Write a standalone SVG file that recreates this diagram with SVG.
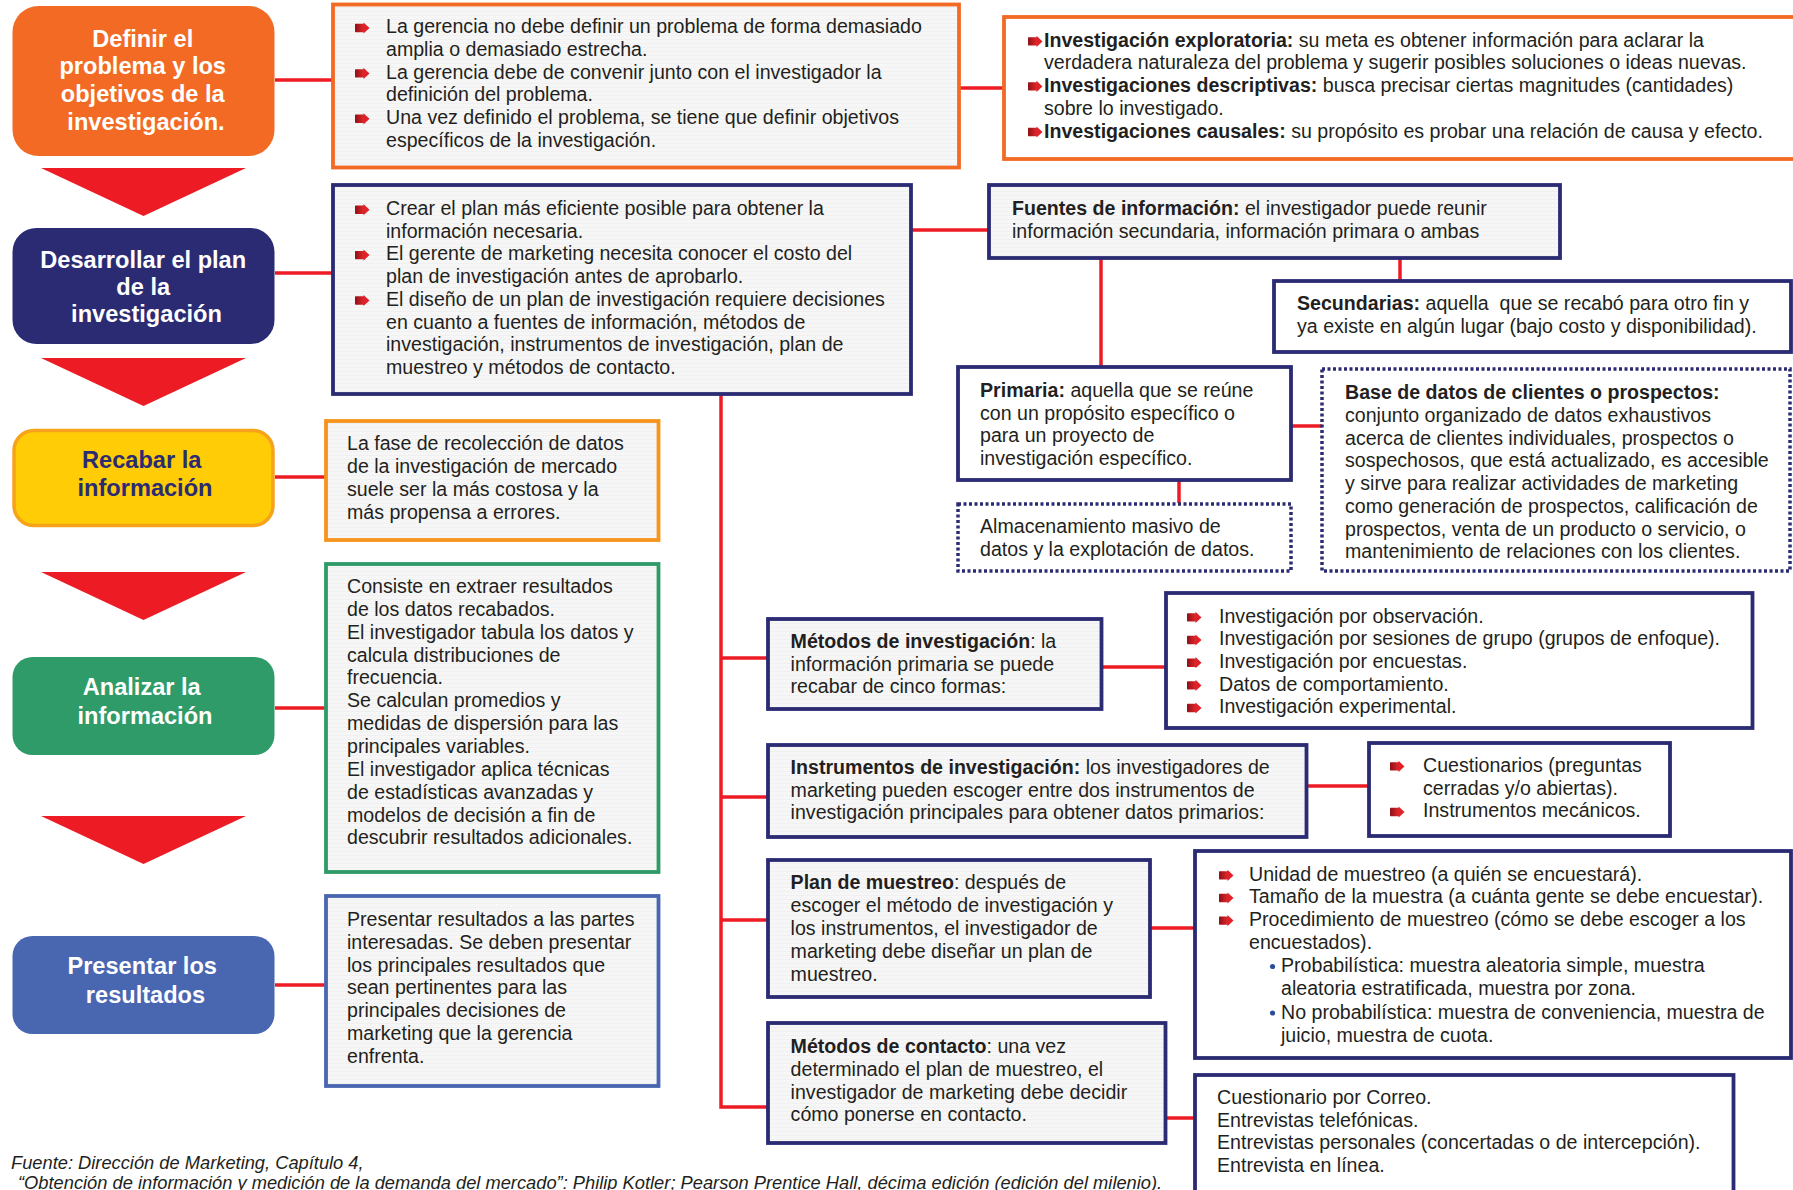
<svg xmlns="http://www.w3.org/2000/svg" width="1793" height="1190" viewBox="0 0 1793 1190">
  <style>
    .t { font-family: "Liberation Sans", Arial, sans-serif; font-size: 19.6px; fill: #231F20; }
    .b { font-weight: bold; }
    .ttl { font-family: "Liberation Sans", Arial, sans-serif; font-size: 23.6px; font-weight: bold; fill: #FFFFFF; text-anchor: middle; }
    .foot { font-family: "Liberation Sans", Arial, sans-serif; font-size: 18.3px; font-style: italic; fill: #231F20; }
    .conn { stroke: #ED1C24; stroke-width: 3.5; fill: none; }
    .navy { fill: url(#tex); stroke: #2B2B73; stroke-width: 3.8; }
    .navyw { fill: #FFFFFF; stroke: #2B2B73; stroke-width: 3.8; }
    .dots { fill: #FFFFFF; stroke: #2B2B73; stroke-width: 3.5; stroke-dasharray: 3 2.5; }
    .step-arrow { fill: #ED1C24; }
    .sub { fill: #2B4C9B; }
  </style>
  <defs>
    <pattern id="tex" width="4" height="4" patternUnits="userSpaceOnUse">
      <rect width="4" height="4" fill="#F5F5F5"/>
      <rect x="0" y="0" width="1" height="1" fill="#FDFDFD"/>
      <rect x="2" y="2" width="1" height="1" fill="#FDFDFD"/>
      <rect x="0" y="3" width="4" height="0.6" fill="#EDEDED"/>
    </pattern>
    <linearGradient id="bulletGrad" x1="0" y1="0" x2="1" y2="0">
      <stop offset="0" stop-color="#8E1015"/>
      <stop offset="0.55" stop-color="#D9252B"/>
      <stop offset="1" stop-color="#ED1C24"/>
    </linearGradient>
    <!-- red arrow bullet, origin at left-centre -->
    <path id="bul" d="M0.5,-4.2 Q0,-4.2 0,-2.8 L0,2.8 Q0,4.2 0.5,4.2 L8.5,4.2 L8.5,5.6 L14.5,0 L8.5,-5.6 L8.5,-4.2 Z" fill="url(#bulletGrad)"/>
  </defs>

  <rect width="1793" height="1190" fill="#FFFFFF"/>

  <!-- connectors -->
  <g id="connectors">
    <line class="conn" x1="275" y1="80" x2="333" y2="80"/>
    <line class="conn" x1="275" y1="273" x2="333" y2="273"/>
    <line class="conn" x1="275" y1="477" x2="326" y2="477"/>
    <line class="conn" x1="275" y1="708" x2="326" y2="708"/>
    <line class="conn" x1="275" y1="985" x2="326" y2="985"/>
    <line class="conn" x1="959" y1="88" x2="1004" y2="88"/>
    <line class="conn" x1="911" y1="230" x2="989" y2="230"/>
    <line class="conn" x1="1101" y1="258" x2="1101" y2="367"/>
    <line class="conn" x1="1400" y1="258" x2="1400" y2="280"/>
    <line class="conn" x1="1179" y1="480" x2="1179" y2="503"/>
    <line class="conn" x1="1291" y1="426" x2="1322" y2="426"/>
    <polyline class="conn" points="721,394 721,1107 768,1107"/>
    <line class="conn" x1="721" y1="658" x2="768" y2="658"/>
    <line class="conn" x1="721" y1="797" x2="768" y2="797"/>
    <line class="conn" x1="721" y1="920" x2="768" y2="920"/>
    <line class="conn" x1="1101" y1="667" x2="1166" y2="667"/>
    <line class="conn" x1="1306" y1="786" x2="1369" y2="786"/>
    <line class="conn" x1="1150" y1="928" x2="1195" y2="928"/>
    <line class="conn" x1="1166" y1="1118" x2="1195" y2="1118"/>
  </g>

  <!-- step arrows between stages -->
  <g id="step-arrows">
    <polygon class="step-arrow" points="41,168 246,168 143.5,216"/>
    <polygon class="step-arrow" points="41,358 246,358 143.5,406"/>
    <polygon class="step-arrow" points="41,572 246,572 143.5,620"/>
    <polygon class="step-arrow" points="41,816 246,816 143.5,864"/>
  </g>

  <!-- stage 1 -->
  <g id="stage-definir">
    <rect x="12.5" y="6" width="262" height="150" rx="26" fill="#F26A24"/>
    <text class="ttl">
      <tspan x="146" y="46.7">Definir el</tspan>
      <tspan x="146" y="74.3">problema y los</tspan>
      <tspan x="146" y="102">objetivos de la</tspan>
      <tspan x="146" y="129.6">investigación.</tspan>
    </text>
  </g>
  <g id="stage-desarrollar">
    <rect x="12.5" y="228" width="262" height="116" rx="24" fill="#2B2B73"/>
    <text class="ttl">
      <tspan x="146.5" y="267.5">Desarrollar el plan</tspan>
      <tspan x="146.5" y="295">de la</tspan>
      <tspan x="146.5" y="322.3">investigación</tspan>
    </text>
  </g>
  <g id="stage-recabar">
    <rect x="14" y="430.5" width="259" height="95" rx="20" fill="#FFCC05" stroke="#F7A21B" stroke-width="3.5"/>
    <text class="ttl" style="fill:#2B2B73">
      <tspan x="145" y="467.5">Recabar la</tspan>
      <tspan x="145" y="496">información</tspan>
    </text>
  </g>
  <g id="stage-analizar">
    <rect x="12.5" y="657" width="262" height="98" rx="20" fill="#2E9B68"/>
    <text class="ttl">
      <tspan x="145" y="694.5">Analizar la</tspan>
      <tspan x="145" y="723.5">información</tspan>
    </text>
  </g>
  <g id="stage-presentar">
    <rect x="12.5" y="936" width="262" height="98" rx="20" fill="#4966B0"/>
    <text class="ttl">
      <tspan x="145.5" y="974">Presentar los</tspan>
      <tspan x="145.5" y="1003">resultados</tspan>
    </text>
  </g>

  <!-- stage detail boxes -->
  <g id="detail-definir">
    <rect x="333" y="4.5" width="626" height="163" fill="url(#tex)" stroke="#F26A24" stroke-width="3.8"/>
    <use href="#bul" x="355" y="28"/>
    <use href="#bul" x="355" y="73.4"/>
    <use href="#bul" x="355" y="118.8"/>
    <text class="t">
      <tspan x="386" y="33.3">La gerencia no debe definir un problema de forma demasiado</tspan>
      <tspan x="386" y="56">amplia o demasiado estrecha.</tspan>
      <tspan x="386" y="78.7">La gerencia debe de convenir junto con el investigador la</tspan>
      <tspan x="386" y="101.4">definición del problema.</tspan>
      <tspan x="386" y="124.1">Una vez definido el problema, se tiene que definir objetivos</tspan>
      <tspan x="386" y="146.8">específicos de la investigación.</tspan>
    </text>
  </g>
  <g id="detail-desarrollar">
    <rect x="333" y="185" width="578" height="209" class="navy"/>
    <use href="#bul" x="355" y="209.7"/>
    <use href="#bul" x="355" y="255.1"/>
    <use href="#bul" x="355" y="300.5"/>
    <text class="t">
      <tspan x="386" y="215">Crear el plan más eficiente posible para obtener la</tspan>
      <tspan x="386" y="237.7">información necesaria.</tspan>
      <tspan x="386" y="260.4">El gerente de marketing necesita conocer el costo del</tspan>
      <tspan x="386" y="283.1">plan de investigación antes de aprobarlo.</tspan>
      <tspan x="386" y="305.8">El diseño de un plan de investigación requiere decisiones</tspan>
      <tspan x="386" y="328.5">en cuanto a fuentes de información, métodos de</tspan>
      <tspan x="386" y="351.2">investigación, instrumentos de investigación, plan de</tspan>
      <tspan x="386" y="373.9">muestreo y métodos de contacto.</tspan>
    </text>
  </g>
  <g id="detail-recabar">
    <rect x="326" y="421" width="332.5" height="119" fill="url(#tex)" stroke="#F7941D" stroke-width="3.8"/>
    <text class="t">
      <tspan x="347" y="450">La fase de recolección de datos</tspan>
      <tspan x="347" y="473">de la investigación de mercado</tspan>
      <tspan x="347" y="496">suele ser la más costosa y la</tspan>
      <tspan x="347" y="519">más propensa a errores.</tspan>
    </text>
  </g>
  <g id="detail-analizar">
    <rect x="326" y="564" width="332.5" height="308" fill="url(#tex)" stroke="#2E9B68" stroke-width="3.8"/>
    <text class="t">
      <tspan x="347" y="593">Consiste en extraer resultados</tspan>
      <tspan x="347" y="615.85">de los datos recabados.</tspan>
      <tspan x="347" y="638.7">El investigador tabula los datos y</tspan>
      <tspan x="347" y="661.55">calcula distribuciones de</tspan>
      <tspan x="347" y="684.4">frecuencia.</tspan>
      <tspan x="347" y="707.25">Se calculan promedios y</tspan>
      <tspan x="347" y="730.1">medidas de dispersión para las</tspan>
      <tspan x="347" y="752.95">principales variables.</tspan>
      <tspan x="347" y="775.8">El investigador aplica técnicas</tspan>
      <tspan x="347" y="798.65">de estadísticas avanzadas y</tspan>
      <tspan x="347" y="821.5">modelos de decisión a fin de</tspan>
      <tspan x="347" y="844.35">descubrir resultados adicionales.</tspan>
    </text>
  </g>
  <g id="detail-presentar">
    <rect x="326" y="896" width="332.5" height="190" fill="url(#tex)" stroke="#4966B0" stroke-width="3.8"/>
    <text class="t">
      <tspan x="347" y="926">Presentar resultados a las partes</tspan>
      <tspan x="347" y="948.8">interesadas. Se deben presentar</tspan>
      <tspan x="347" y="971.6">los principales resultados que</tspan>
      <tspan x="347" y="994.4">sean pertinentes para las</tspan>
      <tspan x="347" y="1017.2">principales decisiones de</tspan>
      <tspan x="347" y="1040">marketing que la gerencia</tspan>
      <tspan x="347" y="1062.8">enfrenta.</tspan>
    </text>
  </g>

  <!-- research types -->
  <g id="tipos-investigacion">
    <rect x="1004" y="17" width="800" height="142" fill="#FFFFFF" stroke="#F26A24" stroke-width="3.8"/>
    <use href="#bul" x="1028" y="41.4"/>
    <use href="#bul" x="1028" y="86.4"/>
    <use href="#bul" x="1028" y="132"/>
    <text class="t">
      <tspan x="1044" y="46.7"><tspan class="b">Investigación exploratoria:</tspan> su meta es obtener información para aclarar la</tspan>
      <tspan x="1044" y="69.4">verdadera naturaleza del problema y sugerir posibles soluciones o ideas nuevas.</tspan>
      <tspan x="1044" y="92.1"><tspan class="b">Investigaciones descriptivas:</tspan> busca precisar ciertas magnitudes (cantidades)</tspan>
      <tspan x="1044" y="114.8">sobre lo investigado.</tspan>
      <tspan x="1044" y="137.5"><tspan class="b">Investigaciones causales:</tspan> su propósito es probar una relación de causa y efecto.</tspan>
    </text>
  </g>

  <!-- information sources -->
  <g id="fuentes">
    <rect x="989" y="185" width="571" height="73" class="navy"/>
    <text class="t">
      <tspan x="1012" y="215"><tspan class="b">Fuentes de información:</tspan> el investigador puede reunir</tspan>
      <tspan x="1012" y="237.7">información secundaria, información primara o ambas</tspan>
    </text>
  </g>
  <g id="secundarias">
    <rect x="1274" y="281" width="517" height="71" class="navyw"/>
    <text class="t" xml:space="preserve"><tspan x="1297" y="310"><tspan class="b">Secundarias:</tspan> aquella  que se recabó para otro fin y</tspan><tspan x="1297" y="333">ya existe en algún lugar (bajo costo y disponibilidad).</tspan></text>
  </g>
  <g id="primaria">
    <rect x="958" y="367" width="333" height="113" class="navyw"/>
    <text class="t">
      <tspan x="980" y="396.7"><tspan class="b">Primaria:</tspan> aquella que se reúne</tspan>
      <tspan x="980" y="419.5">con un propósito específico o</tspan>
      <tspan x="980" y="442.3">para un proyecto de</tspan>
      <tspan x="980" y="465.1">investigación específico.</tspan>
    </text>
  </g>
  <g id="almacenamiento">
    <rect x="958" y="504" width="333" height="67" class="dots"/>
    <text class="t">
      <tspan x="980" y="533.3">Almacenamiento masivo de</tspan>
      <tspan x="980" y="556">datos y la explotación de datos.</tspan>
    </text>
  </g>
  <g id="base-datos">
    <rect x="1322" y="369" width="468" height="202" class="dots"/>
    <text class="t">
      <tspan x="1345" y="399.3" class="b">Base de datos de clientes o prospectos:</tspan>
      <tspan x="1345" y="422">conjunto organizado de datos exhaustivos</tspan>
      <tspan x="1345" y="444.7">acerca de clientes individuales, prospectos o</tspan>
      <tspan x="1345" y="467.4">sospechosos, que está actualizado, es accesible</tspan>
      <tspan x="1345" y="490.1">y sirve para realizar actividades de marketing</tspan>
      <tspan x="1345" y="512.8">como generación de prospectos, calificación de</tspan>
      <tspan x="1345" y="535.5">prospectos, venta de un producto o servicio, o</tspan>
      <tspan x="1345" y="558.2">mantenimiento de relaciones con los clientes.</tspan>
    </text>
  </g>

  <!-- research methods -->
  <g id="metodos-investigacion">
    <rect x="768" y="619" width="333.5" height="90" class="navy"/>
    <text class="t">
      <tspan x="790.6" y="647.7"><tspan class="b">Métodos de investigación</tspan>: la</tspan>
      <tspan x="790.6" y="670.5">información primaria se puede</tspan>
      <tspan x="790.6" y="693.3">recabar de cinco formas:</tspan>
    </text>
  </g>
  <g id="formas">
    <rect x="1166" y="593" width="586.5" height="135" class="navyw"/>
    <use href="#bul" x="1187" y="617.4"/>
    <use href="#bul" x="1187" y="640"/>
    <use href="#bul" x="1187" y="662.7"/>
    <use href="#bul" x="1187" y="685.4"/>
    <use href="#bul" x="1187" y="708"/>
    <text class="t">
      <tspan x="1219" y="622.7">Investigación por observación.</tspan>
      <tspan x="1219" y="645.35">Investigación por sesiones de grupo (grupos de enfoque).</tspan>
      <tspan x="1219" y="668">Investigación por encuestas.</tspan>
      <tspan x="1219" y="690.65">Datos de comportamiento.</tspan>
      <tspan x="1219" y="713.3">Investigación experimental.</tspan>
    </text>
  </g>

  <!-- research instruments -->
  <g id="instrumentos">
    <rect x="768" y="745" width="538.5" height="92" class="navy"/>
    <text class="t">
      <tspan x="790.6" y="774"><tspan class="b">Instrumentos de investigación:</tspan> los investigadores de</tspan>
      <tspan x="790.6" y="796.7">marketing pueden escoger entre dos instrumentos de</tspan>
      <tspan x="790.6" y="819.4">investigación principales para obtener datos primarios:</tspan>
    </text>
  </g>
  <g id="tipos-instrumentos">
    <rect x="1369" y="743" width="301" height="93" class="navyw"/>
    <use href="#bul" x="1390" y="766.4"/>
    <use href="#bul" x="1390" y="812"/>
    <text class="t">
      <tspan x="1423" y="771.7">Cuestionarios (preguntas</tspan>
      <tspan x="1423" y="794.5">cerradas y/o abiertas).</tspan>
      <tspan x="1423" y="817.3">Instrumentos mecánicos.</tspan>
    </text>
  </g>

  <!-- sampling plan -->
  <g id="plan-muestreo">
    <rect x="768" y="860" width="382" height="137" class="navy"/>
    <text class="t">
      <tspan x="790.6" y="889.3"><tspan class="b">Plan de muestreo</tspan>: después de</tspan>
      <tspan x="790.6" y="912.2">escoger el método de investigación y</tspan>
      <tspan x="790.6" y="935.1">los instrumentos, el investigador de</tspan>
      <tspan x="790.6" y="958">marketing debe diseñar un plan de</tspan>
      <tspan x="790.6" y="980.9">muestreo.</tspan>
    </text>
  </g>
  <g id="muestreo-detalle">
    <rect x="1195" y="851" width="596" height="207" class="navyw"/>
    <use href="#bul" x="1219" y="875.4"/>
    <use href="#bul" x="1219" y="898"/>
    <use href="#bul" x="1219" y="920.6"/>
    <circle class="sub" cx="1272.5" cy="966.5" r="2.6"/>
    <circle class="sub" cx="1272.5" cy="1013" r="2.6"/>
    <text class="t">
      <tspan x="1249" y="880.7">Unidad de muestreo (a quién se encuestará).</tspan>
      <tspan x="1249" y="903.3">Tamaño de la muestra (a cuánta gente se debe encuestar).</tspan>
      <tspan x="1249" y="925.9">Procedimiento de muestreo (cómo se debe escoger a los</tspan>
      <tspan x="1249" y="948.5">encuestados).</tspan>
      <tspan x="1281" y="972.3">Probabilística: muestra aleatoria simple, muestra</tspan>
      <tspan x="1281" y="995">aleatoria estratificada, muestra por zona.</tspan>
      <tspan x="1281" y="1018.8">No probabilística: muestra de conveniencia, muestra de</tspan>
      <tspan x="1281" y="1041.5">juicio, muestra de cuota.</tspan>
    </text>
  </g>

  <!-- contact methods -->
  <g id="metodos-contacto">
    <rect x="768" y="1023" width="397.5" height="120" class="navy"/>
    <text class="t">
      <tspan x="790.6" y="1052.7"><tspan class="b">Métodos de contacto</tspan>: una vez</tspan>
      <tspan x="790.6" y="1075.6">determinado el plan de muestreo, el</tspan>
      <tspan x="790.6" y="1098.5">investigador de marketing debe decidir</tspan>
      <tspan x="790.6" y="1121.4">cómo ponerse en contacto.</tspan>
    </text>
  </g>
  <g id="tipos-contacto">
    <rect x="1195" y="1075" width="538.5" height="140" class="navyw"/>
    <text class="t">
      <tspan x="1217" y="1104">Cuestionario por Correo.</tspan>
      <tspan x="1217" y="1126.6">Entrevistas telefónicas.</tspan>
      <tspan x="1217" y="1149.2">Entrevistas personales (concertadas o de intercepción).</tspan>
      <tspan x="1217" y="1171.8">Entrevista en línea.</tspan>
    </text>
  </g>

  <!-- source note -->
  <g id="fuente">
    <text class="foot">
      <tspan x="11" y="1169">Fuente: Dirección de Marketing, Capítulo 4,</tspan>
      <tspan x="18" y="1189">“Obtención de información y medición de la demanda del mercado”: Philip Kotler; Pearson Prentice Hall, décima edición (edición del milenio).</tspan>
    </text>
  </g>
</svg>
